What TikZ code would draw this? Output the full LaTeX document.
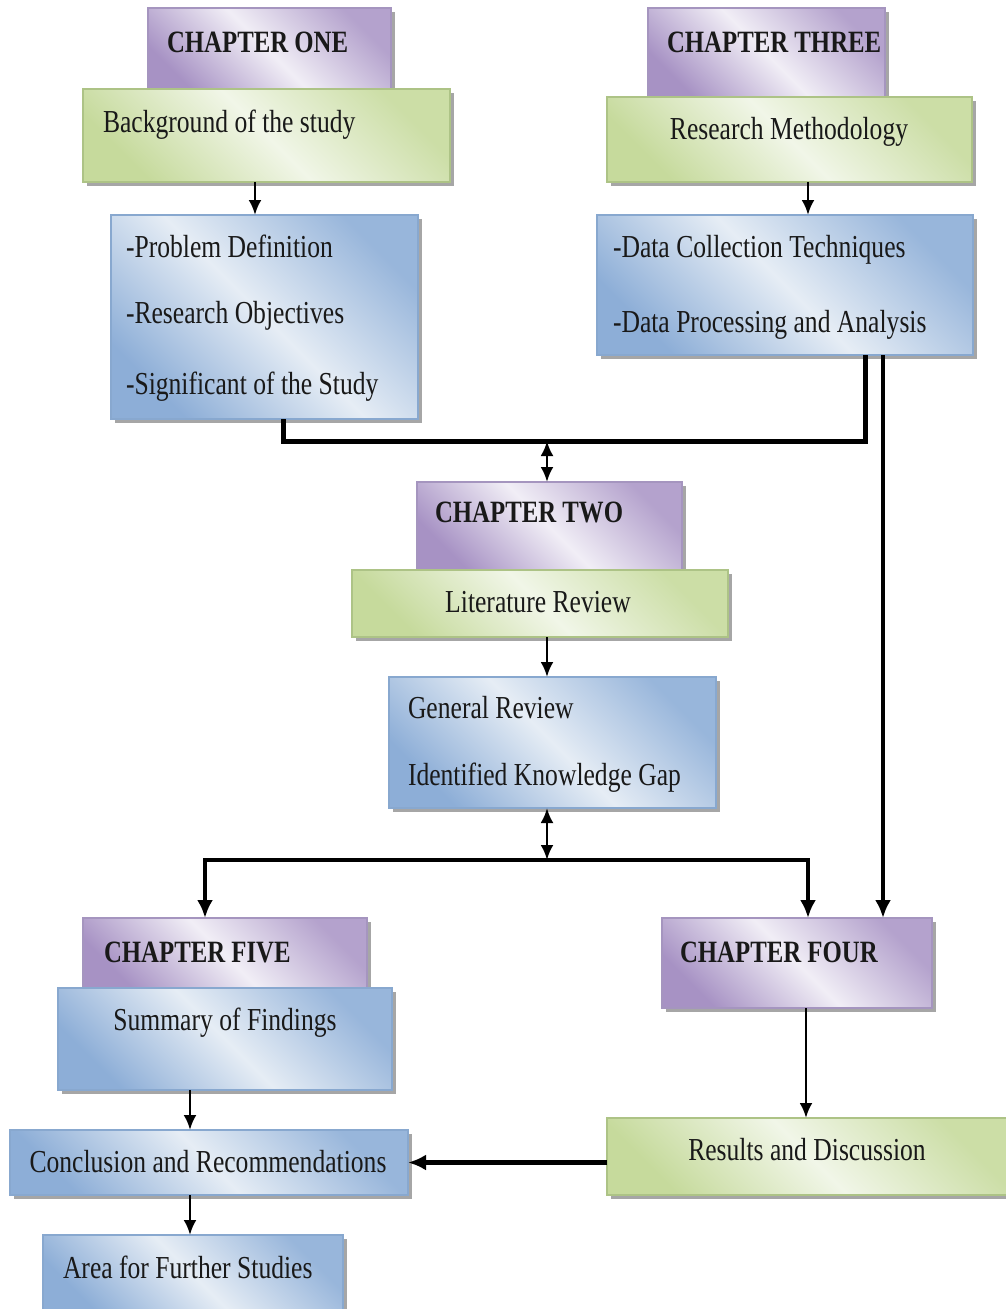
\documentclass[tikz,border=0pt]{standalone}
\usepackage{fontspec}
\usepackage{graphicx}
\setmainfont{Liberation Serif}
\newcommand{\sq}[1]{\scalebox{0.8}[1]{#1}}
\usetikzlibrary{arrows.meta,calc,shadows}
\definecolor{pdark}{HTML}{A792C4}
\definecolor{plight}{HTML}{F1EEF6}
\definecolor{pborder}{HTML}{A595BF}
\definecolor{gdark}{HTML}{C6DA9C}
\definecolor{glight}{HTML}{F1F6E8}
\definecolor{gborder}{HTML}{ADC386}
\definecolor{bdark}{HTML}{8DAED7}
\definecolor{blight}{HTML}{E6EDF5}
\definecolor{bborder}{HTML}{88A8CF}
\begin{document}
\begin{tikzpicture}[x=1pt,y=-1pt,
  every node/.style={inner sep=0pt,outer sep=0pt},
  boxbase/.style={rectangle,anchor=north west,line width=1.5pt,
    drop shadow={shadow xshift=3.5pt,shadow yshift=-3.5pt,fill=black,opacity=0.35}},
  pbox/.style={boxbase,draw=pborder,
    left color=pdark,right color=pdark!85,middle color=plight,shading angle=135},
  gbox/.style={boxbase,draw=gborder,
    left color=gdark,right color=gdark!90,middle color=glight,shading angle=135},
  bbox/.style={boxbase,draw=bborder,
    left color=bdark,right color=bdark!90,middle color=blight,shading angle=135},
  txt/.style={font=\fontsize{32}{38}\selectfont,text=black!90,anchor=base west},
  ctxt/.style={txt,anchor=base},
  htxt/.style={txt,font=\fontsize{31}{38}\selectfont\bfseries},
  arr/.style={line width=2.8pt,-{Latex[length=15pt,width=13pt]}},
  darr/.style={line width=2.8pt,{Latex[length=15pt,width=13pt]}-{Latex[length=15pt,width=13pt]}},
  thick line/.style={line width=5pt},
  tarr/.style={line width=4.5pt,-{Latex[length=18pt,width=16pt]}}
]
\useasboundingbox (0,0) rectangle (1005,1309);
\fill[white] (0,0) rectangle (1005,1309);

% Chapter One
\node[pbox,minimum width=243pt,minimum height=87pt] (p1) at (148,8) {};
\node[gbox,minimum width=367pt,minimum height=93pt] (g1) at (83,89) {};
\node[bbox,minimum width=307pt,minimum height=204pt] (b1) at (111,215) {};
\node[htxt] (t1) at (167,52) {\sq{CHAPTER ONE}};
\node[txt] (t1a) at (103,132) {\sq{Background of the study}};
\node[txt] (t1b) at (126,257) {\sq{-Problem Definition}};
\node[txt] (t1c) at (126,323) {\sq{-Research Objectives}};
\node[txt] (t1d) at (126,394) {\sq{-Significant of the Study}};

% Chapter Three
\node[pbox,minimum width=237pt,minimum height=92pt] (p3) at (648,8) {};
\node[gbox,minimum width=365pt,minimum height=85pt] (g3) at (607,97) {};
\node[bbox,minimum width=376pt,minimum height=140pt] (b3) at (597,215) {};
\node[htxt] (t3) at (667,52) {\sq{CHAPTER THREE}};
\node[ctxt] (t3a) at (789,139) {\sq{Research Methodology}};
\node[txt] (t3b) at (613,257) {\sq{-Data Collection Techniques}};
\node[txt] (t3c) at (613,332) {\sq{-Data Processing and Analysis}};

% Chapter Two
\node[pbox,minimum width=265pt,minimum height=90pt] (p2) at (417,482) {};
\node[gbox,minimum width=376pt,minimum height=67pt] (g2) at (352,570) {};
\node[bbox,minimum width=327pt,minimum height=131pt] (b2) at (389,677) {};
\node[htxt] (t2) at (435,522) {\sq{CHAPTER TWO}};
\node[ctxt] (t2a) at (538,612) {\sq{Literature Review}};
\node[txt] (t2b) at (408,718) {\sq{General Review}};
\node[txt] (t2c) at (408,785) {\sq{Identified Knowledge Gap}};

% Chapter Five
\node[pbox,minimum width=284pt,minimum height=74pt] (p5) at (83,918) {};
\node[bbox,minimum width=334pt,minimum height=102pt] (s5) at (58,988) {};
\node[bbox,minimum width=398pt,minimum height=65pt] (c5) at (10,1130) {};
\node[bbox,minimum width=300pt,minimum height=80pt] (a5) at (43,1235) {};
\node[htxt] (t5) at (104,962) {\sq{CHAPTER FIVE}};
\node[ctxt] (t5a) at (225,1030) {\sq{Summary of Findings}};
\node[ctxt] (t5b) at (208,1172) {\sq{Conclusion and Recommendations}};
\node[txt] (t5c) at (63,1278) {\sq{Area for Further Studies}};

% Chapter Four
\node[pbox,minimum width=270pt,minimum height=90pt] (p4) at (662,918) {};
\node[gbox,minimum width=405pt,minimum height=77pt] (r4) at (607,1118) {};
\node[htxt] (t4) at (680,962) {\sq{CHAPTER FOUR}};
\node[ctxt] (t4a) at (807,1160) {\sq{Results and Discussion}};

% connectors
\draw[arr] ($(g1.south west)+(172,0)$) -- ($(b1.north west)+(144,0)$);
\draw[arr] ($(g3.south west)+(201,0)$) -- ($(b3.north west)+(211,0)$);
\coordinate (j1) at (547,441);
\draw[thick line] ($(b1.south west)+(172,0)$) |- (j1) -| ($(b3.south west)+(268,0)$);
\draw[darr] (j1) -- (j1 |- p2.north);
\draw[tarr] ($(b3.south west)+(286,0)$) -- ($(p4.north west)+(221,0)$);
\draw[arr] ($(g2.south west)+(195,0)$) -- ($(b2.north west)+(158,0)$);
\coordinate (j2) at (547,860);
\draw[darr] ($(b2.south west)+(158,0)$) -- (j2);
\draw[tarr] (j2) -| ($(p5.north west)+(122,0)$);
\draw[tarr] (j2) -| ($(p4.north west)+(146,0)$);
\draw[arr] ($(p4.south west)+(144,0)$) -- ($(r4.north west)+(199,0)$);
\draw[arr] ($(s5.south west)+(132,0)$) -- ($(c5.north west)+(180,0)$);
\draw[arr] ($(c5.south west)+(180,0)$) -- ($(a5.north west)+(147,0)$);
\draw[tarr] (c5.east -| r4.west) -- (c5.east);
\end{tikzpicture}
\end{document}
